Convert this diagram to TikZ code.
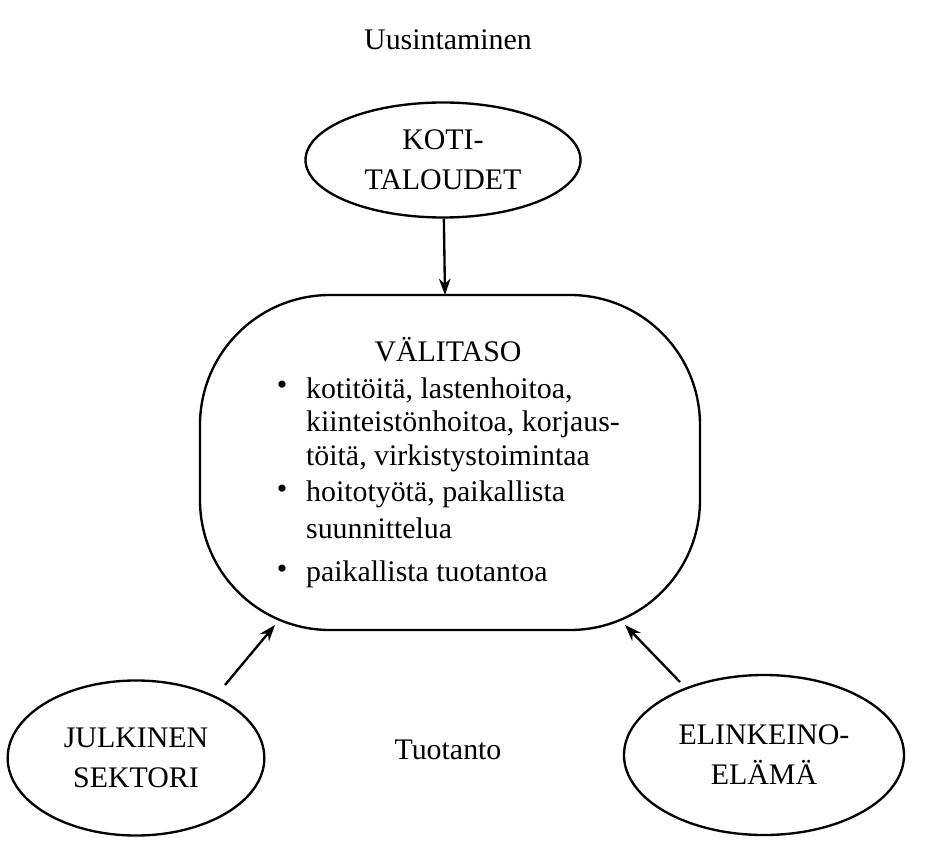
\documentclass[tikz,border=0pt]{standalone}
\usepackage{fontspec}
\setmainfont{Liberation Serif}
\usetikzlibrary{shapes.geometric,arrows.meta}
\begin{document}
\begin{tikzpicture}[x=0.03cm,y=-0.03cm,
  every node/.style={font=\fontsize{25.5}{34}\selectfont},
  ell/.style={draw,line width=2pt,ellipse,align=center,inner sep=0pt},
  arr/.style={-{Stealth[length=14pt,width=10pt]},line width=2pt},
  txt/.style={anchor=west}]
\useasboundingbox (0,0) rectangle (943,847);
\node (t1) at (448,40) {Uusintaminen};
\node[ell,minimum width=8.25cm,minimum height=3.45cm] (koti) at (443,160) {KOTI-\\TALOUDET};
\draw[line width=2pt,rounded corners=3.9cm] (200,295) rectangle (700,630);
\coordinate (vtop) at (445,295);
\coordinate (vl) at (275,625);
\coordinate (vr) at (625,625);
\coordinate (jt) at (225,685);
\coordinate (et) at (680,682);
\node (v) at (448,350) {VÄLITASO};
\foreach \y in {388,492,572} \node at (282,\y) {\textbullet};
\node[txt] (l1) at (302,390) {kotitöitä, lastenhoitoa,};
\node[txt] (l2) at (302,424) {kiinteistönhoitoa, korjaus-};
\node[txt] (l3) at (302,458) {töitä, virkistystoimintaa};
\node[txt] (l4) at (302,494) {hoitotyötä, paikallista};
\node[txt] (l5) at (302,528) {suunnittelua};
\node[txt] (l6) at (302,574) {paikallista tuotantoa};
\node[ell,minimum width=7.7cm,minimum height=4.65cm] (julk) at (136,758) {JULKINEN\\SEKTORI};
\node[ell,minimum width=8.4cm,minimum height=4.8cm] (elin) at (764,755) {ELINKEINO-\\ELÄMÄ};
\node (t2) at (448,750) {Tuotanto};
\draw[arr] (koti) -- (vtop);
\draw[arr] (jt) -- (vl);
\draw[arr] (et) -- (vr);
\end{tikzpicture}
\end{document}
